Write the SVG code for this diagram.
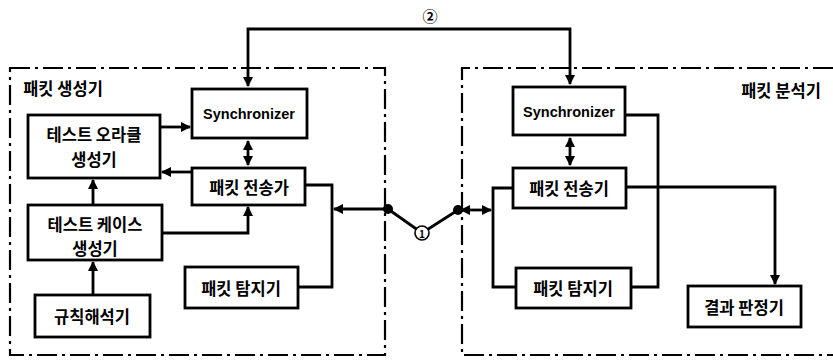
<svg xmlns="http://www.w3.org/2000/svg" width="833" height="361" viewBox="0 0 833 361">
<style>
.box{fill:#fff;stroke:#000;stroke-width:2.8}
.frame{fill:none;stroke:#000;stroke-width:2.2;stroke-dasharray:20 5 3 5}
.ln{fill:none;stroke:#000;stroke-width:2.8}
text{font-family:"Noto Sans CJK KR","Noto Sans",sans-serif;font-weight:bold;font-size:16.5px;fill:#000;text-anchor:middle;dominant-baseline:central}
.en{font-family:"Liberation Sans",Arial,sans-serif;font-size:14.5px}
</style>
<defs>
<marker id="ah" viewBox="0 0 10 10" refX="9" refY="5" markerWidth="3.6" markerHeight="3.6" orient="auto-start-reverse" markerUnits="strokeWidth">
<path d="M0,0 L10,5 L0,10 z" fill="#000"/>
</marker>
</defs>
<g id="frames">
<path class="frame" d="M10,68 H385 V355 H10 Z"/>
<path class="frame" d="M833,68 H462 V355 H833"/>
<text x="63" y="88">패킷 생성기</text>
<text x="781" y="90">패킷 분석기</text>
</g>
<g id="connectors">
<path class="ln" d="M248,86 V29 H570 V84" marker-end="url(#ah)" marker-start="url(#ah)"/>
<path class="ln" d="M160,127 H190" marker-end="url(#ah)"/>
<path class="ln" d="M192,172 H162" marker-end="url(#ah)"/>
<path class="ln" d="M248,141 V165" marker-end="url(#ah)" marker-start="url(#ah)"/>
<path class="ln" d="M162,233 H248 V207" marker-end="url(#ah)"/>
<path class="ln" d="M93,205 V180" marker-end="url(#ah)"/>
<path class="ln" d="M93,295 V262" marker-end="url(#ah)"/>
<path class="ln" d="M305,185 H332 V287 H298"/>
<path class="ln" d="M388,209 H334" marker-end="url(#ah)"/>
<path class="ln" d="M388,209 L422,233 L458,210"/>
<path class="ln" d="M461,210 H491" marker-end="url(#ah)" marker-start="url(#ah)"/>
<path class="ln" d="M513,188 H493 V287 H516"/>
<path class="ln" d="M570,138 V165" marker-end="url(#ah)" marker-start="url(#ah)"/>
<path class="ln" d="M625,115 H658 V287 H631"/>
<path class="ln" d="M626,187 H775 V284" marker-end="url(#ah)"/>
<circle cx="388" cy="209" r="5" fill="#000"/>
<circle cx="458" cy="210" r="5" fill="#000"/>
<circle cx="422" cy="233" r="7" fill="#fff" stroke="#000" stroke-width="1.6"/>
<text x="422" y="233" style="font-size:10px">1</text>
<text x="430" y="15" style="font-size:15px">②</text>
</g>
<g id="gen-sync"><rect class="box" x="192" y="89" width="115" height="49"/><text class="en" x="249" y="114">Synchronizer</text></g>
<g id="gen-tx"><rect class="box" x="192" y="168" width="113" height="37"/><text x="249" y="187">패킷 전송가</text></g>
<g id="oracle"><rect class="box" x="28" y="115" width="132" height="63"/><text x="94" y="134">테스트 오라클</text><text x="94" y="159">생성기</text></g>
<g id="testcase"><rect class="box" x="28" y="205" width="134" height="55"/><text x="95" y="224">테스트 케이스</text><text x="95" y="248">생성기</text></g>
<g id="rule"><rect class="box" x="35" y="295" width="115" height="42"/><text x="92" y="316">규칙해석기</text></g>
<g id="gen-det"><rect class="box" x="185" y="267" width="113" height="41"/><text x="241" y="288">패킷 탐지기</text></g>
<g id="ana-sync"><rect class="box" x="513" y="87" width="112" height="48"/><text class="en" x="569" y="112">Synchronizer</text></g>
<g id="ana-tx"><rect class="box" x="513" y="168" width="113" height="40"/><text x="569" y="188">패킷 전송기</text></g>
<g id="ana-det"><rect class="box" x="516" y="268" width="115" height="40"/><text x="573" y="288">패킷 탐지기</text></g>
<g id="judge"><rect class="box" x="688" y="286" width="113" height="41"/><text x="744" y="307">결과 판정기</text></g>
</svg>
